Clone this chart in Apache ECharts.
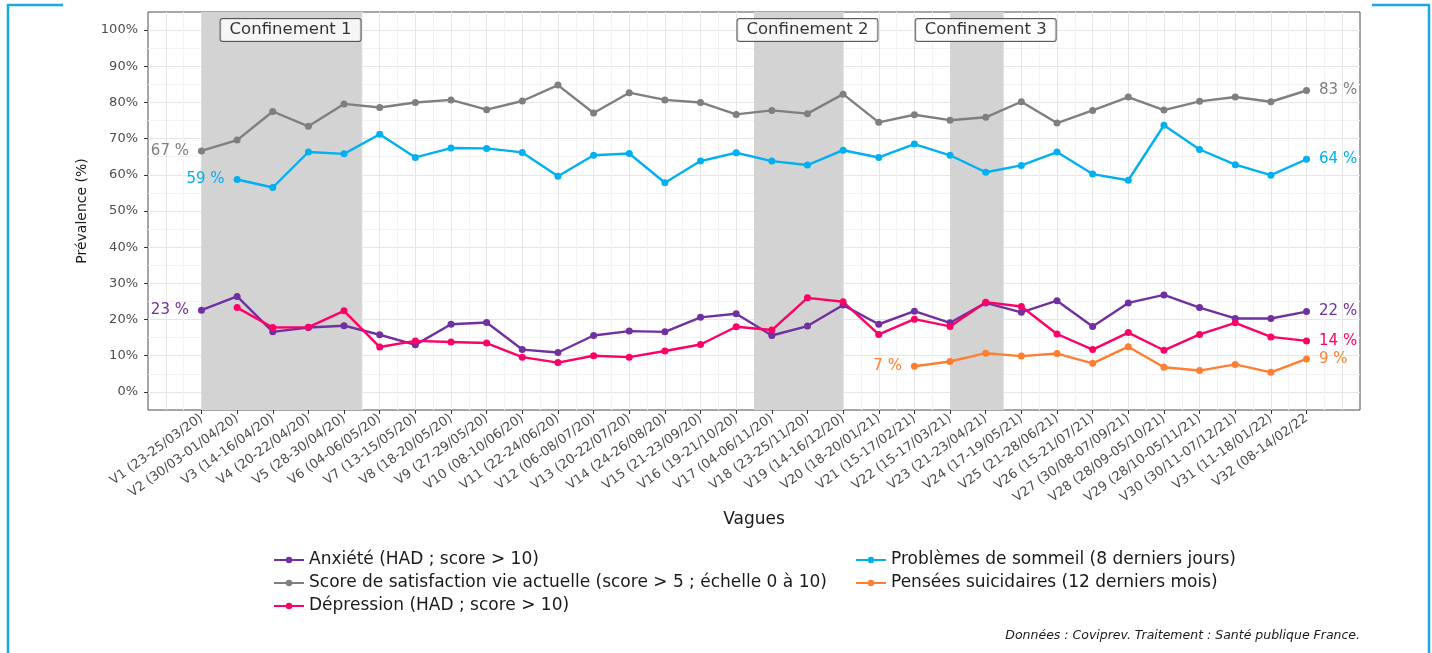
<!DOCTYPE html>
<html><head><meta charset="utf-8">
<script src="https://cdn.jsdelivr.net/npm/echarts@6/dist/echarts.min.js"></script>
<style>html,body{margin:0;padding:0;background:#fff}#c{width:1432px;height:653px}</style>
</head><body><div id="c"></div>
<script>
const waves = ['V1 (23-25/03/20)','V2 (30/03-01/04/20)','V3 (14-16/04/20)','V4 (20-22/04/20)','V5 (28-30/04/20)','V6 (04-06/05/20)','V7 (13-15/05/20)','V8 (18-20/05/20)','V9 (27-29/05/20)','V10 (08-10/06/20)','V11 (22-24/06/20)','V12 (06-08/07/20)','V13 (20-22/07/20)','V14 (24-26/08/20)','V15 (21-23/09/20)','V16 (19-21/10/20)','V17 (04-06/11/20)','V18 (23-25/11/20)','V19 (14-16/12/20)','V20 (18-20/01/21)','V21 (15-17/02/21)','V22 (15-17/03/21)','V23 (21-23/04/21)','V24 (17-19/05/21)','V25 (21-28/06/21)','V26 (15-21/07/21)','V27 (30/08-07/09/21)','V28 (28/09-05/10/21)','V29 (28/10-05/11/21)','V30 (30/11-07/12/21)','V31 (11-18/01/22)','V32 (08-14/02/22'];
const anxiete = [22.6,26.4,16.6,17.8,18.3,15.8,13.0,18.7,19.2,11.7,10.9,15.6,16.8,16.6,20.6,21.6,15.6,18.2,24.0,18.7,22.3,19.1,24.6,22.0,25.2,18.1,24.6,26.8,23.3,20.3,20.3,22.2];
const satisfaction = [66.6,69.6,77.5,73.4,79.6,78.6,80.0,80.7,78.0,80.4,84.8,77.1,82.7,80.7,80.0,76.7,77.8,76.9,82.3,74.5,76.6,75.1,75.9,80.2,74.3,77.8,81.5,77.9,80.3,81.5,80.2,83.3];
const depression = [null,23.3,17.8,17.9,22.4,12.4,14.1,13.8,13.5,9.6,8.1,10.0,9.6,11.3,13.1,18.0,17.1,26.0,24.9,15.9,20.1,18.1,24.8,23.6,16.0,11.7,16.4,11.5,15.9,19.1,15.2,14.1];
const sommeil = [null,58.7,56.5,66.3,65.8,71.2,64.8,67.4,67.3,66.2,59.6,65.4,65.9,57.8,63.8,66.1,63.8,62.7,66.8,64.8,68.5,65.4,60.7,62.6,66.3,60.2,58.5,73.7,67.0,62.8,59.9,64.3];
const pensees = [null,null,null,null,null,null,null,null,null,null,null,null,null,null,null,null,null,null,null,null,7.1,8.4,10.7,9.9,10.6,7.9,12.5,6.8,5.9,7.6,5.4,9.1];
const seriesNames = ['Anxiété (HAD ; score > 10)','Score de satisfaction vie actuelle (score > 5 ; échelle 0 à 10)','Dépression (HAD ; score > 10)','Problèmes de sommeil (8 derniers jours)','Pensées suicidaires (12 derniers mois)'];
const seriesColors = ['#7030A0','#7F7F7F','#FF0066','#00B0F0','#FF7F32'];
const startLabels = [true,true,false,true,true];
const yTicks = ['0%','10%','20%','30%','40%','50%','60%','70%','80%','90%','100%'];
const confNames = ['Confinement 1','Confinement 2','Confinement 3'];
const confStart = [1,16.5,22];
const confEnd = [5.5,19,23.5];
const confLabelX = [3.5,18,23];
const confLabelY = 100;
const caption = 'Données : Coviprev. Traitement : Santé publique France.';

const FONT = 'DejaVu Sans';
const xCats = [''].concat(waves).concat(['']);
const values = [anxiete, satisfaction, depression, sommeil, pensees];

function makeSeries(k) {
  const arr = values[k], color = seriesColors[k];
  const idx = arr.map((v,i)=>v==null?-1:i).filter(i=>i>=0);
  const first = idx[0], last = idx[idx.length-1];
  const data = idx.map(i => {
    const item = {value:[i+1, arr[i]]};
    if ((i===first && startLabels[k]) || i===last) item.label = {show:true, position: i===first?'left':'right'};
    return item;
  });
  return {type:'line', name:seriesNames[k], data, xAxisIndex:0, yAxisIndex:0, z:3, color,
    symbol:'circle', symbolSize:7, lineStyle:{width:2.4,color}, itemStyle:{color},
    label:{show:false, formatter:p=>Math.round(p.value[1])+' %', color, fontFamily:FONT, fontSize:15, distance:9},
    emphasis:{disabled:true}, animation:false};
}

const series = [
  {type:'custom', name:'conf', xAxisIndex:0, yAxisIndex:0, z:1, silent:true, animation:false,
   data: confStart.map((s,i)=>[s, confEnd[i]]),
   renderItem:(params, api)=>{
     const p1 = api.coord([api.value(0), 105]);
     const p2 = api.coord([api.value(1), -5]);
     return {type:'rect', shape:{x:p1[0], y:p1[1], width:p2[0]-p1[0], height:p2[1]-p1[1]}, style:{fill:'#d3d3d3'}};
   }}
].concat(values.map((_,k)=>makeSeries(k))).concat([
  {type:'scatter', name:'confLabels', xAxisIndex:0, yAxisIndex:0, z:5, silent:true, animation:false, symbolSize:0,
   data: confLabelX.map((x,i)=>({value:[x, confLabelY], name:confNames[i]})),
   label:{show:true, position:'inside', formatter:p=>p.name, fontFamily:FONT, fontSize:16.5, color:'#000',
     backgroundColor:'#fff', borderColor:'#333', borderWidth:1, borderRadius:2, padding:[3,9,2,9]}}
]);

const legendCommon = {orient:'vertical', itemWidth:30, itemHeight:8, itemGap:3, selectedMode:false,
  textStyle:{fontFamily:FONT, fontSize:17, color:'#1a1a1a', lineHeight:20}};

const option = {
  backgroundColor:'#fff',
  animation:false,
  title:{text:caption, right:72, top:629, padding:0, textStyle:{fontFamily:FONT, fontSize:12.5, fontStyle:'italic', fontWeight:'normal', color:'#1a1a1a'}},
  grid:{left:148, right:72, top:12, bottom:243, show:true, borderColor:'#4d4d4d', borderWidth:1, backgroundColor:'#fff'},
  legend:[
    Object.assign({data:[seriesNames[0],seriesNames[1],seriesNames[2]], left:268, top:545}, legendCommon),
    Object.assign({data:[seriesNames[3],seriesNames[4]], left:850, top:545}, legendCommon)
  ],
  xAxis:[
    {type:'value', min:-0.5, max:33.5, interval:0.5, axisLine:{show:false}, axisTick:{show:false}, axisLabel:{show:false},
     splitLine:{show:true, showMinLine:false, showMaxLine:false, lineStyle:{color:['#e6e6e6','#f3f3f3'], width:1}}},
    {type:'category', data:xCats, boundaryGap:true, position:'bottom', axisLine:{show:false},
     axisTick:{show:true, alignWithLabel:true, interval:(i)=>i>=1&&i<=32, length:4, lineStyle:{color:'#333'}},
     axisLabel:{interval:0, rotate:36, margin:7, fontFamily:FONT, fontSize:13, color:'#4d4d4d'},
     splitLine:{show:false}, name:'Vagues', nameLocation:'middle', nameGap:100,
     nameTextStyle:{fontFamily:FONT, fontSize:17, color:'#1a1a1a'}}
  ],
  yAxis:[
    {type:'value', min:-5, max:105, interval:5, axisLine:{show:false}, axisTick:{show:false}, axisLabel:{show:false},
     splitLine:{show:true, showMinLine:false, showMaxLine:false, lineStyle:{color:['#e6e6e6','#f3f3f3'], width:1}}},
    {type:'category', data:yTicks, boundaryGap:true, position:'left', axisLine:{show:false},
     axisTick:{show:true, alignWithLabel:true, interval:0, length:4, lineStyle:{color:'#333'}},
     axisLabel:{interval:0, margin:10, fontFamily:FONT, fontSize:13, color:'#4d4d4d'},
     splitLine:{show:false}, name:'Prévalence (%)', nameLocation:'middle', nameGap:59, nameRotate:90,
     nameTextStyle:{fontFamily:FONT, fontSize:14, color:'#1a1a1a'}}
  ],
  graphic:[
    {type:'polyline', z:10, shape:{points:[[63,5],[8,5],[8,653]]}, style:{stroke:'#19a9e0', lineWidth:2.5, fill:null}},
    {type:'polyline', z:10, shape:{points:[[1372,5],[1429,5],[1429,653]]}, style:{stroke:'#19a9e0', lineWidth:2.5, fill:null}}
  ],
  series
};
const chart = echarts.init(document.getElementById('c'));
chart.setOption(option);
</script></body></html>
